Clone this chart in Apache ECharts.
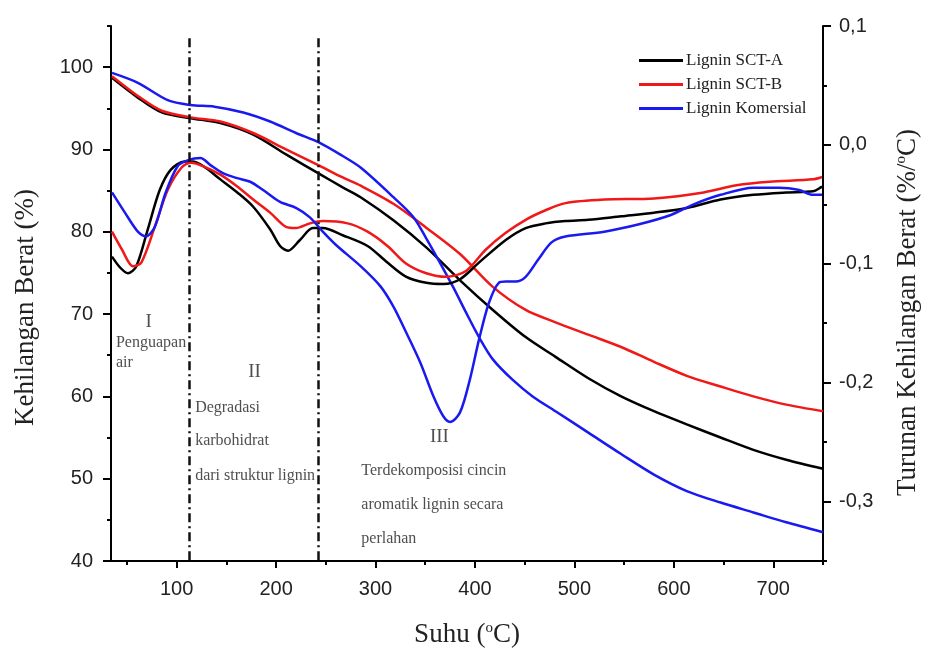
<!DOCTYPE html>
<html lang="id">
<head>
  <meta charset="UTF-8">
  <title>TGA / DTG lignin</title>
</head>
<body style="margin:0; background-color:#fff;">
<div id="main" style="width:929px; height:653px;"></div>

<script src="https://cdn.jsdelivr.net/npm/echarts@6/dist/echarts.min.js"></script>

<script>
  // kurva TG (sumbu kiri, %) : [suhu, berat]
  var tgA = [[35,98.7],[61,96.3],[85,94.5],[114,93.8],[144,93.2],[177,91.8],[210,89.4],[244,87.0],[267,85.4],[285,84.2],[318,81.4],[351,78.1],[385,74.1],[418,70.5],[451,67.2],[481,64.8],[514,62.2],[547,60.0],[580,58.2],[613,56.6],[647,55.0],[680,53.5],[713,52.3],[750,51.2]];
  var tgB = [[35,98.9],[61,96.5],[85,94.7],[114,93.9],[144,93.4],[177,92.0],[210,90.0],[244,88.0],[267,86.6],[285,85.6],[318,83.4],[351,80.5],[385,77.3],[418,73.3],[451,70.5],[481,69.0],[514,67.5],[547,66.0],[580,64.2],[613,62.5],[647,61.2],[680,60.0],[713,59.0],[750,58.2]];
  var tgK = [[35,99.3],[61,98.1],[91,96.0],[114,95.4],[138,95.2],[167,94.5],[194,93.4],[220,92.0],[244,90.8],[267,89.2],[285,87.8],[318,84.2],[338,81.8],[351,79.2],[365,76.2],[378,73.3],[391,70.2],[405,67.0],[418,64.5],[438,62.0],[458,60.0],[481,58.2],[514,55.6],[547,53.0],[580,50.5],[613,48.5],[647,47.1],[680,45.9],[713,44.7],[750,43.5]];

  // kurva DTG (sumbu kanan, %/°C)
  var dtgA = [[35,-0.094],[43,-0.103],[51,-0.108],[59.5,-0.102],[71,-0.071],[83,-0.038],[94,-0.021],[108,-0.014],[116,-0.014],[127,-0.018],[144,-0.029],[161,-0.040],[177,-0.052],[194,-0.071],[204,-0.085],[212,-0.089],[224,-0.080],[237,-0.070],[247,-0.070],[267,-0.076],[292,-0.085],[312,-0.099],[331,-0.111],[351,-0.116],[368,-0.117],[385,-0.113],[404,-0.099],[431,-0.080],[451,-0.070],[471,-0.066],[491,-0.064],[514,-0.063],[547,-0.060],[580,-0.057],[613,-0.053],[647,-0.046],[680,-0.042],[713,-0.040],[740,-0.039],[749,-0.035]];
  var dtgB = [[35,-0.073],[45,-0.088],[56,-0.102],[64.5,-0.099],[78,-0.069],[91,-0.038],[105,-0.019],[114.5,-0.015],[127,-0.018],[144,-0.025],[161,-0.035],[177,-0.046],[194,-0.057],[210,-0.069],[220,-0.070],[234,-0.066],[247,-0.064],[272,-0.066],[292,-0.073],[312,-0.085],[331,-0.100],[351,-0.108],[371,-0.111],[391,-0.106],[411,-0.088],[431,-0.074],[451,-0.063],[471,-0.055],[491,-0.049],[530,-0.046],[580,-0.045],[630,-0.040],[663,-0.034],[696,-0.031],[740,-0.029],[749,-0.027]];
  var dtgK = [[35,-0.040],[48,-0.057],[61,-0.073],[69,-0.077],[78,-0.069],[89,-0.040],[101,-0.018],[111,-0.013],[124,-0.011],[134,-0.017],[147,-0.024],[161,-0.028],[174,-0.031],[187,-0.038],[204,-0.048],[220,-0.053],[234,-0.061],[247,-0.073],[260,-0.084],[285,-0.102],[305,-0.119],[318,-0.136],[331,-0.158],[345,-0.183],[358,-0.211],[368,-0.228],[375,-0.233],[385,-0.225],[395,-0.197],[404,-0.164],[414,-0.133],[424,-0.116],[431,-0.115],[441,-0.115],[451,-0.111],[464,-0.096],[477,-0.082],[491,-0.077],[530,-0.073],[564,-0.067],[597,-0.059],[620,-0.050],[647,-0.042],[680,-0.036],[706,-0.036],[726,-0.038],[740,-0.042],[749,-0.042]];

  var sampleNames = ['Lignin SCT-A', 'Lignin SCT-B', 'Lignin Komersial'];
  var phaseBounds = [113, 242];   // batas tahap (garis putus-putus)

  // catatan tahap: [suhu, berat, teks]
  var notes = [
    [71.8, 69.0, 'I'],
    [39, 66.5, 'Penguapan'],
    [39, 64.1, 'air'],
    [178.3, 63.0, 'II'],
    [118.6, 58.6, 'Degradasi'],
    [118.6, 54.6, 'karbohidrat'],
    [118.6, 50.4, 'dari struktur lignin'],
    [364.3, 55.1, 'III'],
    [285.7, 50.9, 'Terdekomposisi cincin'],
    [285.7, 46.8, 'aromatik lignin secara'],
    [285.7, 42.7, 'perlahan']
  ];

  var xLabels = [100, 200, 300, 400, 500, 600, 700];
  var xMinor = [50, 150, 250, 350, 450, 550, 650, 750];
  var leftLabels = [40, 50, 60, 70, 80, 90, 100];
  var leftMinor = [45, 55, 65, 75, 85, 95, 105];
  var rightLabels = [-0.3, -0.2, -0.1, 0, 0.1];
  var rightMinor = [-0.35, -0.25, -0.15, -0.05, 0.05];

  var colors = ['#000000', '#f01818', '#1a1af0'];
  var serif = 'Liberation Serif';
  var sans = 'Liberation Sans';
  var supStyle = { fontFamily: serif, fontSize: 15, color: '#222', verticalAlign: 'top' };
  var axisPen = { color: '#000', width: 2 };

  function lineSeries(name, data, color, yIdx) {
    return {
      name: name,
      type: 'line',
      xAxisIndex: 0,
      yAxisIndex: yIdx,
      data: data,
      symbol: 'none',
      smooth: 0.3,
      silent: true,
      lineStyle: { color: color, width: 2.5 },
      itemStyle: { color: color }
    };
  }

  // sumbu kosong yang hanya menggambar tick kecil
  function minorAxis(pos, min, max, ticks) {
    return {
      type: 'value', min: min, max: max, position: pos,
      axisLine: { show: false, onZero: false },
      axisTick: { show: true, customValues: ticks, length: 4, lineStyle: axisPen },
      axisLabel: { show: false },
      splitLine: { show: false }
    };
  }

  var chartDom = document.getElementById('main');
  var myChart = echarts.init(chartDom);

  var tgSeries = lineSeries(sampleNames[0], tgA, colors[0], 0);
  tgSeries.markLine = {
    silent: true,
    symbol: ['none', 'none'],
    label: { show: false },
    lineStyle: { color: '#111', width: 2.5, type: [9, 4, 2, 4] },
    data: phaseBounds.map(function (t) { return [{ coord: [t, 103.5] }, { coord: [t, 40] }]; })
  };

  var option = {
    backgroundColor: '#fff',
    animation: false,
    grid: { left: 111, right: 99, top: 26, bottom: 91 },
    legend: {
      data: sampleNames,
      orient: 'vertical',
      left: 634,
      top: 47,
      itemWidth: 44,
      itemHeight: 3,
      itemGap: 7,
      icon: 'rect',
      textStyle: { fontFamily: serif, fontSize: 17, color: '#222', padding: [0, 0, 0, -2] }
    },
    xAxis: [
      {
        type: 'value', min: 34, max: 750, position: 'bottom',
        name: 'Suhu ({sup|o}C)',
        nameLocation: 'middle', nameGap: 60,
        nameTextStyle: { fontFamily: serif, fontSize: 27, color: '#222', rich: { sup: supStyle } },
        axisLine: { onZero: false, lineStyle: axisPen },
        axisTick: { customValues: xLabels, length: 7, lineStyle: axisPen },
        axisLabel: { customValues: xLabels, margin: 18, fontFamily: sans, fontSize: 20, color: '#222' },
        splitLine: { show: false }
      },
      minorAxis('bottom', 34, 750, xMinor)
    ],
    yAxis: [
      {
        type: 'value', min: 40, max: 105, position: 'left',
        name: 'Kehilangan Berat (%)',
        nameLocation: 'middle', nameGap: 72, nameRotate: 90,
        nameTextStyle: { fontFamily: serif, fontSize: 27, color: '#222', padding: [0, 28, 0, 0] },
        axisLine: { show: true, onZero: false, lineStyle: axisPen },
        axisTick: { show: true, customValues: leftLabels, length: 8, lineStyle: axisPen },
        axisLabel: { customValues: leftLabels, margin: 18, fontFamily: sans, fontSize: 20, color: '#222' },
        splitLine: { show: false }
      },
      {
        type: 'value', min: -0.35, max: 0.1, position: 'right',
        name: 'Turunan Kehilangan Berat (%/{sup|o}C)',
        nameLocation: 'middle', nameGap: 71, nameRotate: 90,
        nameTextStyle: { fontFamily: serif, fontSize: 27, color: '#222', padding: [0, 38, 0, 0], rich: { sup: supStyle } },
        axisLine: { show: true, onZero: false, lineStyle: axisPen },
        axisTick: { show: true, customValues: rightLabels, length: 8, lineStyle: axisPen },
        axisLabel: {
          customValues: rightLabels, margin: 16, fontFamily: sans, fontSize: 20, color: '#222',
          formatter: function (v) { return v.toFixed(1).replace('.', ','); }
        },
        splitLine: { show: false }
      },
      minorAxis('left', 40, 105, leftMinor),
      minorAxis('right', -0.35, 0.1, rightMinor)
    ],
    series: [
      tgSeries,
      lineSeries(sampleNames[1], tgB, colors[1], 0),
      lineSeries(sampleNames[2], tgK, colors[2], 0),
      lineSeries(sampleNames[0], dtgA, colors[0], 1),
      lineSeries(sampleNames[1], dtgB, colors[1], 1),
      lineSeries(sampleNames[2], dtgK, colors[2], 1),
      {
        name: 'catatan',
        type: 'scatter',
        xAxisIndex: 0,
        yAxisIndex: 0,
        silent: true,
        symbolSize: 0,
        data: notes.map(function (n) {
          var roman = /^I+$/.test(n[2]);
          return {
            value: [n[0], n[1]],
            label: {
              show: true,
              position: 'inside',
              formatter: n[2],
              align: roman ? 'center' : 'left',
              verticalAlign: 'middle',
              fontFamily: serif,
              fontSize: roman ? 19 : 16,
              color: '#222'
            }
          };
        })
      }
    ]
  };

  myChart.setOption(option);
</script>
</body>
</html>
